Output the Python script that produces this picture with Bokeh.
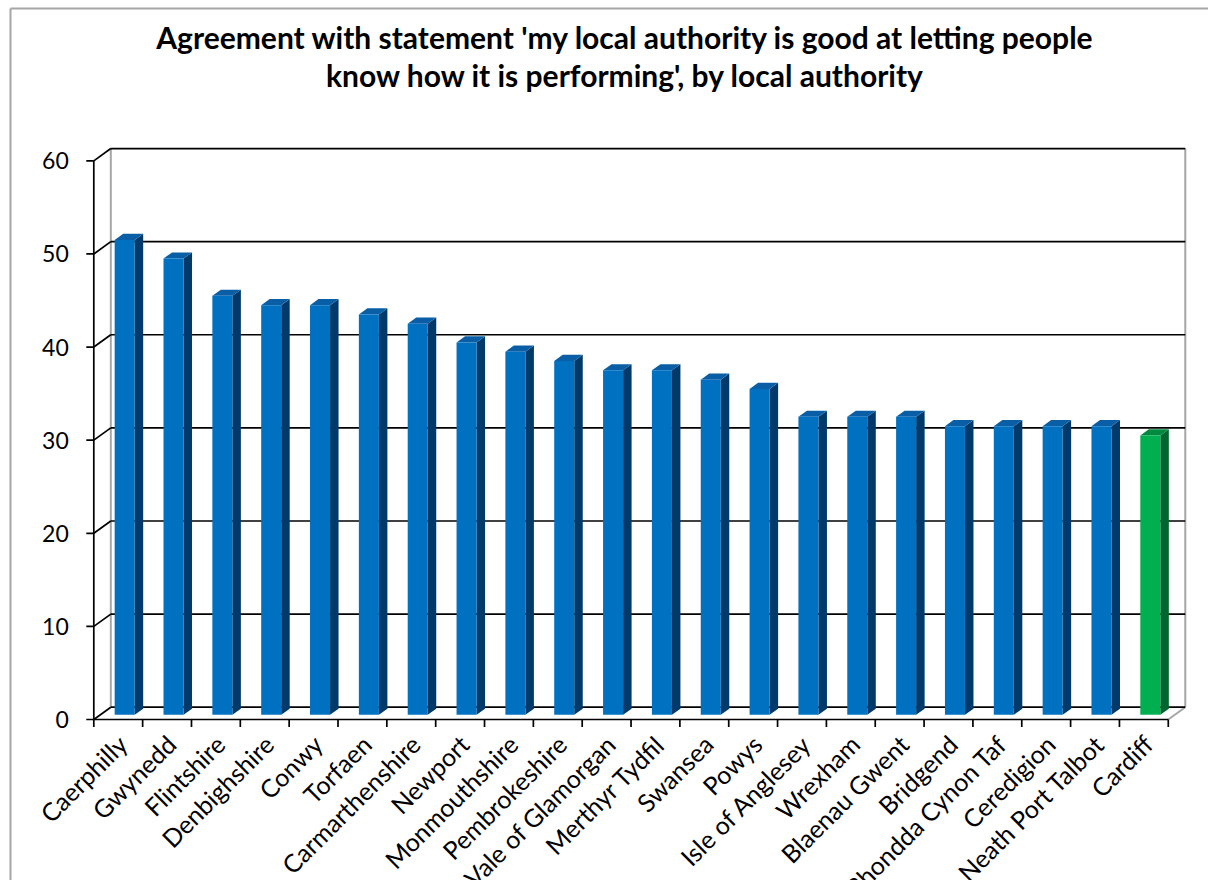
import math
from bokeh.plotting import figure
from bokeh.models import Range1d
from bokeh.core.properties import value
from bokeh.embed import file_html
from bokeh.resources import INLINE

# ---------------- data ----------------
authorities = ["Caerphilly", "Gwynedd", "Flintshire", "Denbighshire", "Conwy", "Torfaen",
               "Carmarthenshire", "Newport", "Monmouthshire", "Pembrokeshire",
               "Vale of Glamorgan", "Merthyr Tydfil", "Swansea", "Powys", "Isle of Anglesey",
               "Wrexham", "Blaenau Gwent", "Bridgend", "Rhondda Cynon Taf", "Ceredigion",
               "Neath Port Talbot", "Cardiff"]
agree_pct = [51, 49, 45, 44, 44, 43, 42, 40, 39, 38, 37, 37, 36, 35, 32, 32, 32, 31, 31, 31, 31, 30]
y_ticks = [0, 10, 20, 30, 40, 50, 60]
y_tick_labels = [str(v) for v in y_ticks]
highlight = ["Cardiff"]
title_lines = ["Agreement with statement 'my local authority is good at letting people",
               "know how it is performing', by local authority"]

# ---------------- styling / geometry (pixels) ----------------
FONT = value("Lato")
W, H = 1208, 880
PX_X = 48.84           # pixels per category
PX_Y = 9.311           # pixels per value unit
ORIG_X, ORIG_Y = 93.3, 719.0   # page position of (0, 0) on the front axes
DX = 17.0 / PX_X       # depth offset of the back wall (category units)
DY = 12.3 / PX_Y       # depth offset of the back wall (value units)
BAR_F = 0.38           # depth position of bar front face (fraction of floor depth)
BAR_D = 0.50           # bar depth (fraction of floor depth)
BAR_HW = 0.205         # half bar width (category units)

BLUE = ("#0070C0", "#003A6B", "#0A5EA6")
GREEN = ("#00B050", "#00652E", "#00893F")
GRAY = "#A6A6A6"


def dx(px):   # page x pixel -> data x
    return (px - ORIG_X) / PX_X


def dy(py):   # page y pixel -> data y
    return (ORIG_Y - py) / PX_Y


n = len(authorities)
ymax = y_ticks[-1]

p = figure(width=W, height=H, output_backend="svg", toolbar_location=None,
           x_range=Range1d(dx(0), dx(W)), y_range=Range1d(dy(H), dy(0)),
           x_axis_location=None, y_axis_location=None,
           min_border=0, min_border_left=0, min_border_right=0,
           min_border_top=0, min_border_bottom=0,
           background_fill_color="white", border_fill_color="white")
p.outline_line_color = None
p.grid.visible = False

# ---------------- chart-area border ----------------
p.segment(x0=[dx(10), dx(10)], y0=[dy(8), dy(8)], x1=[dx(10), dx(W + 5)], y1=[dy(H + 5), dy(8)],
          line_color=GRAY, line_width=2)

# ---------------- walls ----------------
p.segment(x0=[DX, n + DX, n], y0=[DY, DY, 0],
          x1=[DX, n + DX, n + DX], y1=[ymax + DY, ymax + DY, DY],
          line_color=GRAY, line_width=2)
p.segment(x0=[DX] * len(y_ticks), y0=[v + DY for v in y_ticks],
          x1=[n + DX] * len(y_ticks), y1=[v + DY for v in y_ticks],
          line_color="black", line_width=1.7)
p.segment(x0=[0] * len(y_ticks), y0=y_ticks,
          x1=[DX] * len(y_ticks), y1=[v + DY for v in y_ticks],
          line_color="black", line_width=1.7)
# front axis lines
p.segment(x0=[0, 0], y0=[0, 0], x1=[0, n], y1=[ymax, 0], line_color="black", line_width=1.7)

# ---------------- ticks & tick labels ----------------
TICK = 7.5
p.segment(x0=[-TICK / PX_X] * len(y_ticks), y0=y_ticks, x1=[0] * len(y_ticks), y1=y_ticks,
          line_color="black", line_width=1.7)
p.text(x=[-25.0 / PX_X] * len(y_ticks), y=y_ticks, text=y_tick_labels,
       text_align="right", text_baseline="middle", text_font=FONT,
       text_font_size="23px", text_color="black")

bounds = list(range(n + 1))
p.segment(x0=bounds, y0=[0] * len(bounds), x1=bounds, y1=[-TICK / PX_Y] * len(bounds),
          line_color="black", line_width=1.7)
p.text(x=[i + 0.5 + 4.0 / PX_X for i in range(n)], y=[-20.0 / PX_Y] * n, text=authorities,
       angle=math.pi / 4, text_align="right", text_baseline="middle",
       text_font=FONT, text_font_size="25px", text_color="black")

# ---------------- bars ----------------
base = BAR_F * DY
ddx, ddy = BAR_D * DX, BAR_D * DY
xl = [i + 0.5 - BAR_HW + BAR_F * DX for i in range(n)]
xr = [i + 0.5 + BAR_HW + BAR_F * DX for i in range(n)]
tops = [v + base for v in agree_pct]
cols = [GREEN if a in highlight else BLUE for a in authorities]

p.patches(xs=[[r, r + ddx, r + ddx, r] for r in xr],
          ys=[[base, base + ddy, t + ddy, t] for t in tops],
          fill_color=[c[1] for c in cols], line_color=None)
p.patches(xs=[[l, r, r + ddx, l + ddx] for l, r in zip(xl, xr)],
          ys=[[t, t, t + ddy, t + ddy] for t in tops],
          fill_color=[c[2] for c in cols], line_color=None)
p.quad(left=xl, right=xr, bottom=[base] * n, top=tops,
       fill_color=[c[0] for c in cols], line_color=None)

# ---------------- title ----------------
p.text(x=[dx(625)] * 2, y=[dy(36), dy(74)], text=title_lines,
       text_align="center", text_baseline="middle",
       text_font=FONT, text_font_style="bold", text_font_size="30px", text_color="black")

open("out.html", "w").write(file_html(p, INLINE))
